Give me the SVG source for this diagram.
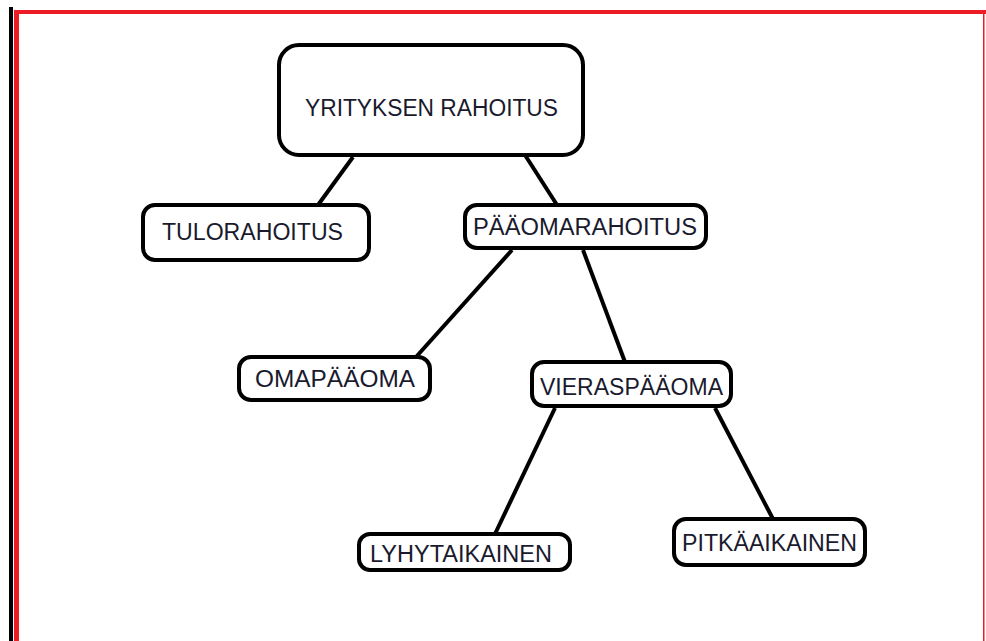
<svg xmlns="http://www.w3.org/2000/svg" width="986" height="641" viewBox="0 0 986 641">
<style>
.node{fill:#fff;stroke:#000;stroke-width:4}
.lbl{font-family:"Liberation Sans",Arial,sans-serif;font-size:23.5px;fill:#1a1a2e;text-anchor:middle}
.edge{stroke:#000;stroke-width:4;fill:none}
</style>
<rect width="986" height="641" fill="#fff"/>
<g id="frame">
<rect x="9" y="7" width="4" height="634" fill="#000"/>
<rect x="14" y="10" width="972" height="4" fill="#ed1c24"/>
<rect x="14" y="10" width="5" height="631" fill="#ed1c24"/>
<rect x="983" y="10" width="1.5" height="631" fill="#ed1c24"/>
</g>
<g id="connectors">
<line class="edge" x1="353" y1="157" x2="318" y2="205"/>
<line class="edge" x1="525" y1="155" x2="557" y2="205"/>
<line class="edge" x1="512" y1="250" x2="416" y2="357"/>
<line class="edge" x1="583" y1="250" x2="625" y2="362"/>
<line class="edge" x1="555" y1="408" x2="495" y2="534"/>
<line class="edge" x1="715" y1="408" x2="773" y2="519"/>
</g>
<g id="n-yrityksen">
<rect class="node" x="279" y="45" width="304" height="110" rx="20"/>
<text class="lbl" x="431.5" y="116" textLength="253" lengthAdjust="spacingAndGlyphs">YRITYKSEN RAHOITUS</text>
</g>
<g id="n-tulo">
<rect class="node" x="143" y="205" width="226" height="55" rx="12"/>
<text class="lbl" x="252.5" y="240" textLength="181" lengthAdjust="spacingAndGlyphs">TULORAHOITUS</text>
</g>
<g id="n-paaoma">
<rect class="node" x="465" y="205" width="241" height="43" rx="12"/>
<text class="lbl" x="585" y="235" textLength="224" lengthAdjust="spacingAndGlyphs">PÄÄOMARAHOITUS</text>
</g>
<g id="n-oma">
<rect class="node" x="239" y="357" width="191" height="43" rx="12"/>
<text class="lbl" x="335" y="387" textLength="160" lengthAdjust="spacingAndGlyphs">OMAPÄÄOMA</text>
</g>
<g id="n-vieras">
<rect class="node" x="532" y="362" width="199" height="44" rx="12"/>
<text class="lbl" x="631.5" y="395" textLength="183" lengthAdjust="spacingAndGlyphs">VIERASPÄÄOMA</text>
</g>
<g id="n-lyhyt">
<rect class="node" x="359" y="534" width="211" height="36" rx="11"/>
<text class="lbl" x="461" y="562" textLength="182" lengthAdjust="spacingAndGlyphs">LYHYTAIKAINEN</text>
</g>
<g id="n-pitka">
<rect class="node" x="674" y="519" width="191" height="46" rx="12"/>
<text class="lbl" x="769.5" y="551" textLength="175" lengthAdjust="spacingAndGlyphs">PITKÄAIKAINEN</text>
</g>
</svg>
